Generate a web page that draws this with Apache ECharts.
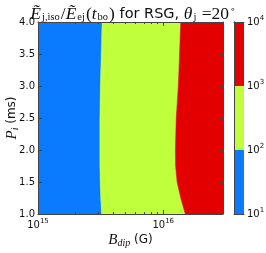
<!DOCTYPE html>
<html><head><meta charset="utf-8">
<script src="https://cdn.jsdelivr.net/npm/echarts@6/dist/echarts.min.js"></script>
<style>html,body{margin:0;padding:0;background:#fff}#c{width:266px;height:253px}</style>
</head><body><div id="c"></div>
<script>
// ---- data ----
const periods = [1.0, 1.25, 1.5, 1.75, 2.0, 2.5, 3.0, 3.5, 4.0];           // P_i (ms)
const boundaryBlueGreen = [3.22e15, 3.17e15, 3.14e15, 3.12e15, 3.12e15, 3.12e15, 3.15e15, 3.2e15, 3.25e15]; // B at level 1e2
const boundaryGreenRed = [1.50e16, 1.38e16, 1.29e16, 1.255e16, 1.25e16, 1.27e16, 1.32e16, 1.35e16, 1.38e16];  // B at level 1e3
const bRange = [1e15, 3e16];
const pRange = [1.0, 4.0];
const levelEdges = [10, 100, 1000, 10000];
const levelColors = ['#0a7bff', '#bfff3c', '#e20000'];
const xMajorTicks = [1e15, 1e16];
const xMinorTicks = [2e15, 3e15, 4e15, 5e15, 6e15, 7e15, 8e15, 9e15, 2e16, 3e16];
const cbTicks = [10, 100, 1000, 10000];

// ---- build ----
const leftEdge = periods.map(() => bRange[0]);
const rightEdge = periods.map(() => bRange[1]);
const curves = [leftEdge, boundaryBlueGreen, boundaryGreenRed, rightEdge];

const frame = '#444';
const txt = '#111';
const sup = {fontSize: 7, fontFamily: 'DejaVu Sans', color: txt, padding: [0, 0, 7, 0]};
const logLabel = v => '10{s|' + Math.round(Math.log10(v)) + '}';

const mainGrid = {left: 38, top: 22, width: 185, height: 192, outerBoundsMode: 'none', containLabel: false};
const cbGrid = {left: 234, top: 22, width: 10, height: 192, outerBoundsMode: 'none', containLabel: false};

function xAx(extra) {
  return Object.assign({
    type: 'log', logBase: 10, min: bRange[0], max: bRange[1], gridIndex: 0, z: 5,
    splitLine: {show: false}, axisLabel: {show: false},
    axisLine: {show: true, lineStyle: {color: frame, width: 1}},
    axisTick: {show: true, inside: true, length: 4, lineStyle: {color: frame}, customValues: xMajorTicks}
  }, extra);
}
const mathRich = {
  m: {fontFamily: 'Liberation Serif', fontStyle: 'italic', fontWeight: 'normal', fontSize: 15, color: txt},
  sb: {fontFamily: 'Liberation Serif', fontStyle: 'italic', fontWeight: 'normal', fontSize: 10, color: txt, padding: [6, 0, 0, 0]},
  n: {fontFamily: 'DejaVu Sans', fontWeight: 'normal', fontSize: 12, color: txt}
};

const option = {
  animation: false,
  backgroundColor: '#fff',
  title: {
    left: 'center', top: 0,
    text: '{m|Ẽ}{sb|j,iso}{r|/}{m|Ẽ}{sb|ej}{r|(}{m|t}{sb|bo}{r|)}{n| for RSG, }{m|θ}{sb|j}{r| =20}{sp|∘}',
    textStyle: {
      fontWeight: 'normal',
      rich: {
        m: {fontFamily: 'Liberation Serif', fontStyle: 'italic', fontWeight: 'normal', fontSize: 17.5, color: txt},
        r: {fontFamily: 'Liberation Serif', fontWeight: 'normal', fontSize: 17.5, color: txt},
        sb: {fontFamily: 'Liberation Serif', fontWeight: 'normal', fontSize: 10.5, color: txt, padding: [7, 1, 0, 1]},
        sp: {fontFamily: 'DejaVu Sans', fontWeight: 'normal', fontSize: 9, color: txt, padding: [0, 0, 9, 1]},
        n: {fontFamily: 'DejaVu Sans', fontWeight: 'normal', fontSize: 14.5, color: txt}
      }
    }
  },
  grid: [mainGrid, cbGrid],
  xAxis: [
    xAx({
      position: 'bottom',
      name: '{m|B}{sb|dip}{n| (G)}', nameLocation: 'middle', nameGap: 18, nameMoveOverlap: false,
      nameTextStyle: {rich: mathRich},
      axisLabel: {show: true, margin: 4, fontFamily: 'DejaVu Sans', fontSize: 10, color: txt,
        formatter: logLabel, customValues: xMajorTicks, rich: {s: sup}}
    }),
    xAx({position: 'bottom', axisLine: {show: false},
      axisTick: {show: true, inside: true, length: 2, lineStyle: {color: frame}, customValues: xMinorTicks}}),
    xAx({position: 'top'}),
    xAx({position: 'top', axisLine: {show: false},
      axisTick: {show: true, inside: true, length: 2, lineStyle: {color: frame}, customValues: xMinorTicks}}),
    {type: 'value', gridIndex: 1, min: 0, max: 1, position: 'bottom', z: 5, show: true,
      axisLine: {show: true, lineStyle: {color: frame}}, axisTick: {show: false}, axisLabel: {show: false}, splitLine: {show: false}},
    {type: 'value', gridIndex: 1, min: 0, max: 1, position: 'top', z: 5, show: true,
      axisLine: {show: true, lineStyle: {color: frame}}, axisTick: {show: false}, axisLabel: {show: false}, splitLine: {show: false}}
  ],
  yAxis: [
    {type: 'value', gridIndex: 0, min: pRange[0], max: pRange[1], interval: 0.5, position: 'left', z: 5,
      splitLine: {show: false},
      axisLine: {show: true, lineStyle: {color: frame}},
      axisTick: {show: true, inside: true, length: 4, lineStyle: {color: frame}},
      axisLabel: {margin: 3, fontFamily: 'DejaVu Sans', fontSize: 10, color: txt, formatter: v => v.toFixed(1)},
      name: '{m|P}{sb|i}{n| (ms)}', nameLocation: 'middle', nameGap: 18, nameRotate: 90, nameMoveOverlap: false,
      nameTextStyle: {rich: mathRich}
    },
    {type: 'value', gridIndex: 0, min: pRange[0], max: pRange[1], interval: 0.5, position: 'right', z: 5,
      splitLine: {show: false}, axisLabel: {show: false},
      axisLine: {show: true, lineStyle: {color: frame}},
      axisTick: {show: true, inside: true, length: 4, lineStyle: {color: frame}}},
    {type: 'log', logBase: 10, gridIndex: 1, min: levelEdges[0], max: levelEdges[levelEdges.length - 1], position: 'right', z: 5,
      splitLine: {show: false},
      axisLine: {show: true, lineStyle: {color: frame}},
      axisTick: {show: false},
      axisLabel: {margin: 3, fontFamily: 'DejaVu Sans', fontSize: 10, color: txt, formatter: logLabel,
        customValues: cbTicks, rich: {s: sup}}},
    {type: 'log', logBase: 10, gridIndex: 1, min: levelEdges[0], max: levelEdges[levelEdges.length - 1], position: 'left', z: 5,
      splitLine: {show: false}, axisLabel: {show: false}, axisTick: {show: false},
      axisLine: {show: true, lineStyle: {color: frame}}}
  ],
  series: [
    {
      type: 'custom', xAxisIndex: 0, yAxisIndex: 0, clip: true, z: 2,
      data: levelColors.map((c, i) => [bRange[0], pRange[0], i]),
      renderItem: (params, api) => {
        const i = api.value(2);
        const L = curves[i], R = curves[i + 1];
        const pts = [];
        for (let k = 0; k < periods.length; k++) pts.push(api.coord([L[k], periods[k]]));
        for (let k = periods.length - 1; k >= 0; k--) pts.push(api.coord([R[k], periods[k]]));
        return {type: 'polygon', shape: {points: pts}, style: {fill: levelColors[i], stroke: levelColors[i], lineWidth: 0.5}};
      }
    },
    {
      type: 'custom', xAxisIndex: 4, yAxisIndex: 2, clip: true, z: 2,
      data: levelColors.map((c, i) => [0, levelEdges[i], i]),
      renderItem: (params, api) => {
        const i = api.value(2);
        const a = api.coord([0, levelEdges[i]]);
        const b = api.coord([1, levelEdges[i + 1]]);
        return {type: 'rect', shape: {x: a[0], y: b[1], width: b[0] - a[0], height: a[1] - b[1]},
          style: {fill: levelColors[i]}};
      }
    }
  ]
};
const chart = echarts.init(document.getElementById('c'), null, {renderer: 'canvas'});
chart.setOption(option);
</script></body></html>
